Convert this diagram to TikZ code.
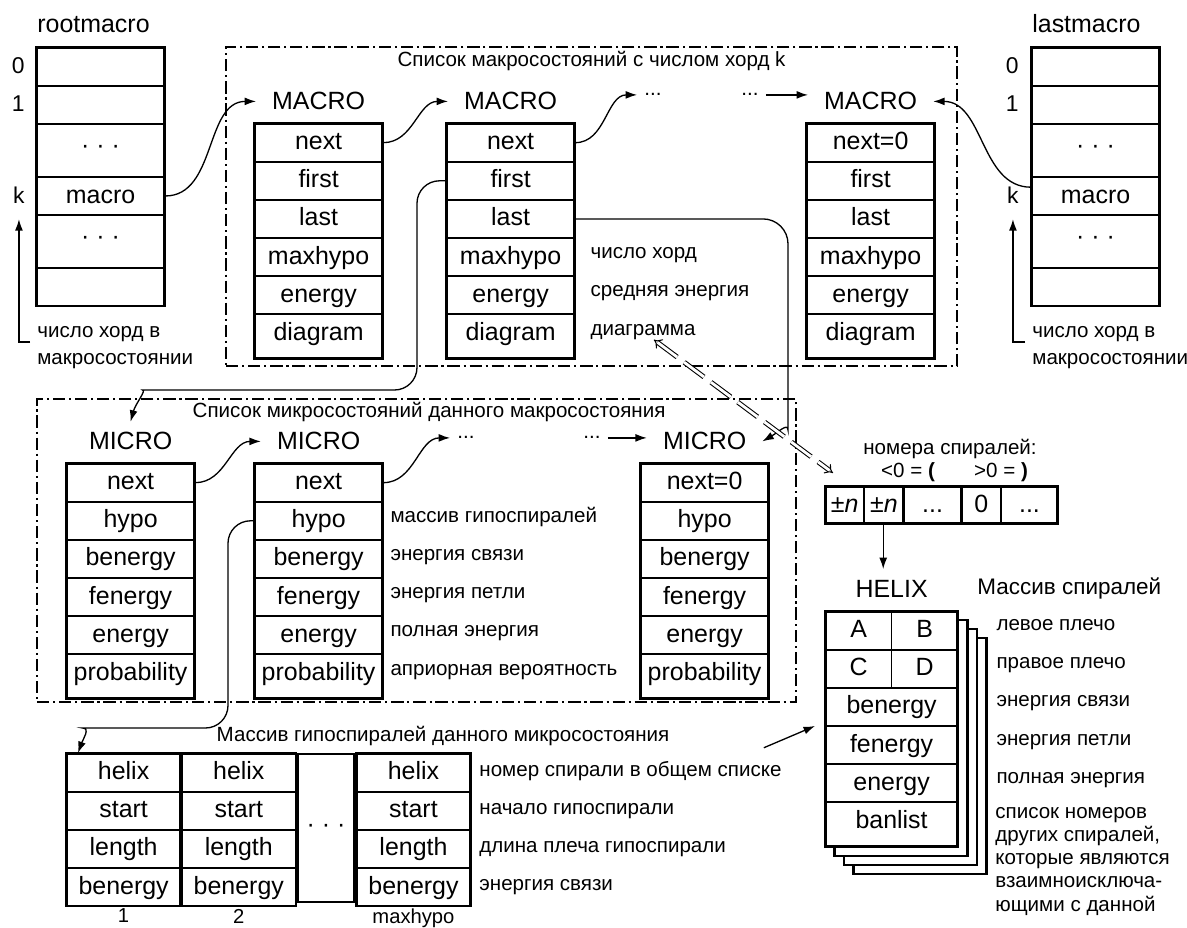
\documentclass[tikz,border=0pt]{standalone}
\usepackage{fontspec}
\setmainfont{Liberation Sans}
\usetikzlibrary{arrows.meta,positioning,shapes.multipart,fit,backgrounds}

% struts that fix the height of one record field
\newcommand{\fieldrow}{\rule[-6.5pt]{0pt}{21pt}}
\newcommand{\fieldlast}{\rule[-9.9pt]{0pt}{24.4pt}}
\newcommand{\fieldgap}{\rule[-13.1pt]{0pt}{29.5pt}}
\newcommand{\boxfont}{\fontsize{14.2pt}{17pt}\selectfont}
\newcommand{\notefont}{\fontsize{11.7pt}{13.2pt}\selectfont}

\begin{document}
\begin{tikzpicture}[
    x=0.02cm, y=0.02cm,
    record/.style={rectangle split, rectangle split parts=#1, draw=black!55, line width=0.7pt,
        postaction={draw=black, line width=1.4pt}, inner sep=0pt,
        minimum width=2.56cm, font=\boxfont, anchor=north west},
    head/.style={font=\boxfont, inner xsep=9pt, inner ysep=6pt, anchor=base},
    idx/.style={font=\fontsize{13pt}{15pt}\selectfont, inner sep=0pt},
    note/.style={font=\notefont, inner sep=0pt, align=left},
    title/.style={font=\notefont, inner sep=0pt},
    dots/.style={font=\notefont, anchor=base, inner xsep=4pt, inner ysep=1pt},
    frame/.style={draw, line width=0.85pt, dash pattern=on 7pt off 2.2pt on 1.2pt off 2.2pt, inner sep=0pt},
    link/.style={-{Latex[length=6.5pt,width=4.5pt]}, line width=0.75pt},
    dbl/.style={{Implies}-{Implies}, double, double distance=1.6pt, line width=0.6pt, dash pattern=on 14pt off 5pt}
]
    \useasboundingbox (0,0) rectangle (1187,-928);

    % index of first macrostates
    \node[head, anchor=base west, inner sep=0pt] (rootlbl) at (37,-33) {rootmacro};
    \node[record=6] (root) at (36,-47) {\fieldrow
        \nodepart{two}\fieldrow
        \nodepart{three}\fieldgap · · ·
        \nodepart{four}\fieldrow macro
        \nodepart{five}\fieldgap · · ·
        \nodepart{six}\fieldrow};
    \node[idx, anchor=base east, xshift=-0.22cm] (root0) at (root.text -| root.west) {0};
    \node[idx, anchor=base east, xshift=-0.22cm] (root1) at (root.two -| root.west) {1};
    \node[idx, anchor=base east, xshift=-0.22cm] (rootk) at (root.four -| root.west) {k};
    \node[note, anchor=north west, font=\fontsize{11.7pt}{15.3pt}\selectfont] (rootnote) at (37,-326) {число хорд в\\макросостоянии};
    \coordinate (rootfoot) at (30,-342);
    \draw[link] (rootfoot) -| ([yshift=-9pt]rootk.south);

    % index of last macrostates
    \node[head, anchor=base west, inner sep=0pt] (lastlbl) at (1032,-33) {lastmacro};
    \node[record=6] (last) at (1031,-47) {\fieldrow
        \nodepart{two}\fieldrow
        \nodepart{three}\fieldgap · · ·
        \nodepart{four}\fieldrow macro
        \nodepart{five}\fieldgap · · ·
        \nodepart{six}\fieldrow};
    \node[idx, anchor=base east, xshift=-0.24cm] (last0) at (last.text -| last.west) {0};
    \node[idx, anchor=base east, xshift=-0.24cm] (last1) at (last.two -| last.west) {1};
    \node[idx, anchor=base east, xshift=-0.24cm] (lastk) at (last.four -| last.west) {k};
    \node[note, anchor=north west, font=\fontsize{11.7pt}{15.3pt}\selectfont] (lastnote) at (1032,-326) {число хорд в\\макросостоянии};
    \coordinate (lastfoot) at (1025,-342);
    \draw[link] (lastfoot) -| ([yshift=-9pt]lastk.south);

    % list of macrostates
    \node[frame, fit={(226,-47) (957,-366)}] (macrolist) {};
    \node[title, below=0.1cm of macrolist.north] (macrotitle) {Список макросостояний с числом хорд k};

    \node[record=6] (m1) at (254,-123) {\fieldrow next
        \nodepart{two}\fieldrow first
        \nodepart{three}\fieldrow last
        \nodepart{four}\fieldrow maxhypo
        \nodepart{five}\fieldrow energy
        \nodepart{six}\fieldlast diagram};
    \node[record=6] (m2) at (446,-123) {\fieldrow next
        \nodepart{two}\fieldrow first
        \nodepart{three}\fieldrow last
        \nodepart{four}\fieldrow maxhypo
        \nodepart{five}\fieldrow energy
        \nodepart{six}\fieldlast diagram};
    \node[record=6] (m3) at (806,-123) {\fieldrow next=0
        \nodepart{two}\fieldrow first
        \nodepart{three}\fieldrow last
        \nodepart{four}\fieldrow maxhypo
        \nodepart{five}\fieldrow energy
        \nodepart{six}\fieldlast diagram};
    \node[head] (m1lbl) at ([yshift=7.4pt]m1.north) {MACRO};
    \node[head] (m2lbl) at ([yshift=7.4pt]m2.north) {MACRO};
    \node[head] (m3lbl) at ([yshift=7.4pt]m3.north) {MACRO};
    \node[dots] (d1) at (653,-96) {...};
    \node[dots] (d2) at (750,-96) {...};

    \node[note, anchor=base west, xshift=0.3cm, yshift=3pt] (mn1) at (m2.four -| m2.east) {число хорд};
    \node[note, anchor=base west, xshift=0.3cm, yshift=3pt] (mn2) at (m2.five -| m2.east) {средняя энергия};
    \node[note, anchor=base west, xshift=0.3cm, yshift=3pt] (mn3) at (m2.six -| m2.east) {диаграмма};

    \draw[link] (root.four east) to[out=0,in=180] (m1lbl.west);
    \draw[link] (m1.text east) to[out=0,in=180] (m2lbl.west);
    \draw[link] (m2.text east) to[out=0,in=180] (d1.west);
    \draw[link] (d2.east) -- (d2.east -| m3lbl.west);
    \draw[link] ([yshift=5pt]last.four west) to[out=180,in=0] (m3lbl.east);

    % list of microstates
    \node[frame, fit={(37,-399) (796,-702)}] (microlist) {};
    \node[title] (microtitle) at (429,-412) {Список микросостояний данного макросостояния};

    \node[record=6] (mi1) at (66,-463) {\fieldrow next
        \nodepart{two}\fieldrow hypo
        \nodepart{three}\fieldrow benergy
        \nodepart{four}\fieldrow fenergy
        \nodepart{five}\fieldrow energy
        \nodepart{six}\fieldlast probability};
    \node[record=6] (mi2) at (254,-463) {\fieldrow next
        \nodepart{two}\fieldrow hypo
        \nodepart{three}\fieldrow benergy
        \nodepart{four}\fieldrow fenergy
        \nodepart{five}\fieldrow energy
        \nodepart{six}\fieldlast probability};
    \node[record=6] (mi3) at (640,-463) {\fieldrow next=0
        \nodepart{two}\fieldrow hypo
        \nodepart{three}\fieldrow benergy
        \nodepart{four}\fieldrow fenergy
        \nodepart{five}\fieldrow energy
        \nodepart{six}\fieldlast probability};
    \node[head] (mi1lbl) at ([yshift=7.4pt]mi1.north) {MICRO};
    \node[head] (mi2lbl) at ([yshift=7.4pt]mi2.north) {MICRO};
    \node[head] (mi3lbl) at ([yshift=7.4pt]mi3.north) {MICRO};
    \node[dots] (d3) at (466,-439) {...};
    \node[dots] (d4) at (592,-439) {...};

    \node[note, anchor=base west, xshift=0.14cm, yshift=3pt] (un1) at (mi2.two -| mi2.east) {массив гипоспиралей};
    \node[note, anchor=base west, xshift=0.14cm, yshift=3pt] (un2) at (mi2.three -| mi2.east) {энергия связи};
    \node[note, anchor=base west, xshift=0.14cm, yshift=3pt] (un3) at (mi2.four -| mi2.east) {энергия петли};
    \node[note, anchor=base west, xshift=0.14cm, yshift=3pt] (un4) at (mi2.five -| mi2.east) {полная энергия};
    \node[note, anchor=base west, xshift=0.14cm, yshift=3pt] (un5) at (mi2.six -| mi2.east) {априорная вероятность};

    \draw[link] (mi1.text east) to[out=0,in=180] (mi2lbl.west);
    \draw[link] (mi2.text east) to[out=0,in=180] (d3.west);
    \draw[link] (d4.east) -- (d4.east -| mi3lbl.west);

    % macrostate to its microstates
    \draw[link, rounded corners=0.45cm] (m2.two west) -| (417,-390) -- (165,-390) to[out=180,in=75] (mi1lbl.north);
    \draw[link, rounded corners=0.5cm] (m2.three east) -| (788,-405) to[out=-90,in=30] (mi3lbl.east);

    % array of hypohelices
    \node[title] (hyptitle) at (443,-736) {Массив гипоспиралей данного микросостояния};
    \node[record=4, minimum width=2.28cm] (hyp1) at (66,-753) {\fieldrow helix
        \nodepart{two}\fieldrow start
        \nodepart{three}\fieldrow length
        \nodepart{four}\fieldrow benergy};
    \node[record=4, minimum width=2.28cm] (hyp2) at (hyp1.north east) {\fieldrow helix
        \nodepart{two}\fieldrow start
        \nodepart{three}\fieldrow length
        \nodepart{four}\fieldrow benergy};
    \node[draw, line width=1.4pt, minimum width=1.14cm, minimum height=2.96cm, inner sep=0pt,
        anchor=north west, font=\boxfont] (hypgap) at (hyp2.north east) {· · ·};
    \node[record=4, minimum width=2.28cm] (hyp3) at (hypgap.north east) {\fieldrow helix
        \nodepart{two}\fieldrow start
        \nodepart{three}\fieldrow length
        \nodepart{four}\fieldrow benergy};
    \node[idx, font=\fontsize{11.5pt}{13pt}\selectfont, below=0.04cm of hyp1] (col1) {1};
    \node[idx, font=\fontsize{11.5pt}{13pt}\selectfont, below=0.04cm of hyp2] (col2) {2};
    \node[idx, font=\fontsize{11.5pt}{13pt}\selectfont, below=0.04cm of hyp3] (col3) {maxhypo};

    \node[note, anchor=base west, xshift=0.16cm, yshift=2pt] (bn1) at (hyp3.text -| hyp3.east) {номер спирали в общем списке};
    \node[note, anchor=base west, xshift=0.16cm, yshift=2pt] (bn2) at (hyp3.two -| hyp3.east) {начало гипоспирали};
    \node[note, anchor=base west, xshift=0.16cm, yshift=2pt] (bn3) at (hyp3.three -| hyp3.east) {длина плеча гипоспирали};
    \node[note, anchor=base west, xshift=0.16cm, yshift=2pt] (bn4) at (hyp3.four -| hyp3.east) {энергия связи};

    \draw[link, rounded corners=0.45cm] (mi2.two west) -| (228,-728) -- (105,-728) to[out=180,in=70] ([xshift=0.24cm]hyp1.north west);

    % helix numbers in the diagram
    \node[note, anchor=center] (numslbl) at (950,-449) {номера спиралей:};
    \node[note, anchor=center] (numsneg) at (908,-472) {<0 = \textbf{(}};
    \node[note, anchor=center] (numspos) at (1001,-472) {>0 = \textbf{)}};
    \node[record=5, rectangle split horizontal, minimum width=0pt] (nums) at (825,-486) {\makebox[0.76cm]{\fieldrow±\textit{n}}
        \nodepart{two}\makebox[0.76cm]{\fieldrow±\textit{n}}
        \nodepart{three}\makebox[1.14cm]{\fieldrow...}
        \nodepart{four}\makebox[0.76cm]{\fieldrow 0}
        \nodepart{five}\makebox[1.12cm]{\fieldrow...}};

    % array of helices
    \node[record=6, minimum width=2.64cm, fill=white] (helix) at (825,-611) {\makebox[1.32cm]{\fieldrow A}\makebox[1.32cm]{B}
        \nodepart{two}\makebox[1.32cm]{\fieldrow C}\makebox[1.32cm]{D}
        \nodepart{three}\fieldrow benergy
        \nodepart{four}\fieldrow fenergy
        \nodepart{five}\fieldrow energy
        \nodepart{six}\fieldlast banlist};
    \draw[line width=1pt] (helix.north) -- (helix.two split);
    \begin{scope}[on background layer]
        \foreach \s in {3,2,1}
            \draw[line width=1.4pt, fill=white] ([shift={(9.5*\s,-9*\s)}]helix.north west) rectangle ([shift={(9.5*\s,-9*\s)}]helix.south east);
    \end{scope}
    \node[head] (helixlbl) at ([yshift=7.9pt]helix.north) {HELIX};
    \node[note, anchor=west, font=\fontsize{12.8pt}{15pt}\selectfont] (helixtitle) at (977,-588) {Массив спиралей};

    \node[note, anchor=base west, xshift=0.76cm, yshift=4pt] (hn1) at (helix.text -| helix.east) {левое плечо};
    \node[note, anchor=base west, xshift=0.76cm, yshift=4pt] (hn2) at (helix.two -| helix.east) {правое плечо};
    \node[note, anchor=base west, xshift=0.76cm, yshift=4pt] (hn3) at (helix.three -| helix.east) {энергия связи};
    \node[note, anchor=base west, xshift=0.76cm, yshift=4pt] (hn4) at (helix.four -| helix.east) {энергия петли};
    \node[note, anchor=base west, xshift=0.76cm, yshift=4pt] (hn5) at (helix.five -| helix.east) {полная энергия};
    \node[note, anchor=north west] (hn6) at (995,-807) {список номеров\\других спиралей,\\которые являются\\взаимноисключа-\\ющими с данной};

    \draw[link] ([xshift=0.38cm]nums.text split |- nums.south) -- ([xshift=0.38cm]nums.text split |- helixlbl.north);
    \draw[link] ([shift={(-18,13)}]bn1.north east) -- ([xshift=-0.2cm]helix.three split -| helix.west);
    \draw[dbl] (mn3) -- ([shift={(8,13)}]nums.north west);
\end{tikzpicture}
\end{document}
